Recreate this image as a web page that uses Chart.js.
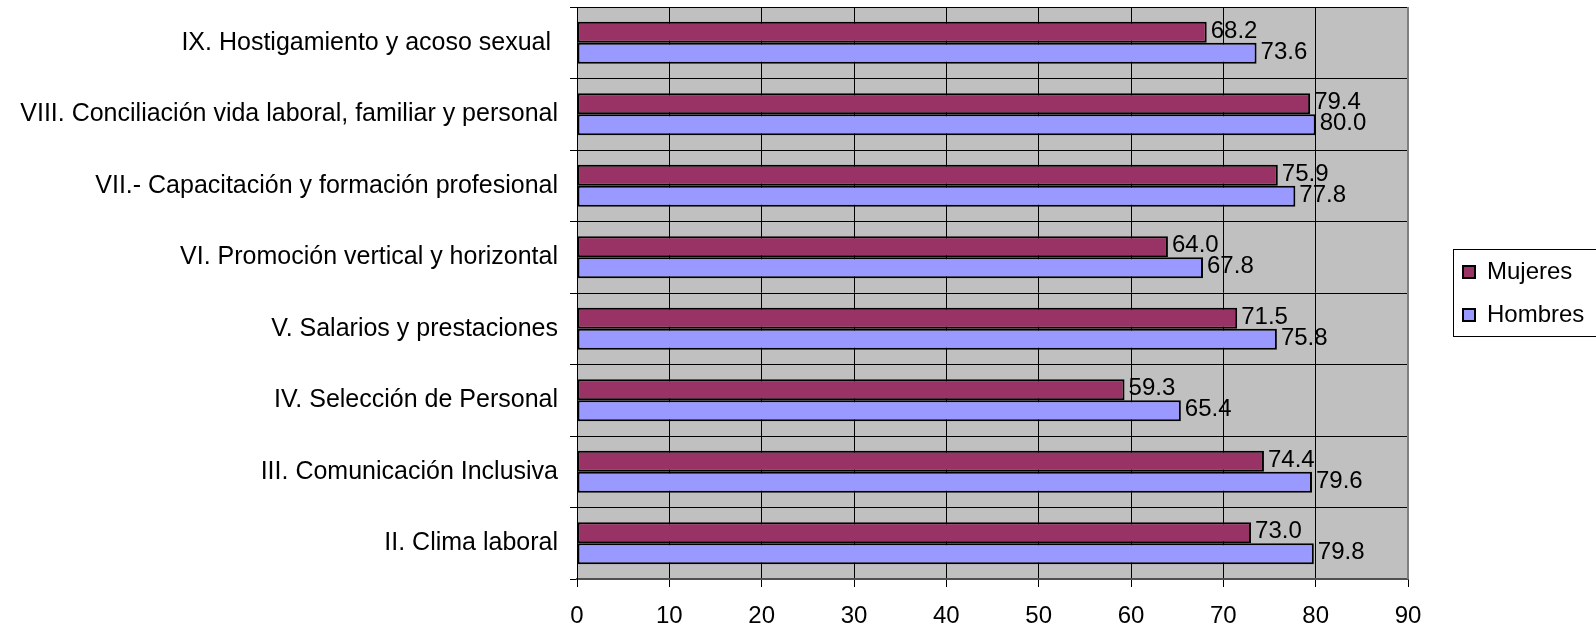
<html lang="es">
<head>
<meta charset="utf-8"/>
<script src="https://cdn.jsdelivr.net/npm/chart.js"></script>
<title>Resultados por factor</title>
<style>
    body { margin : 0 ; background : white ; }
    #grafica { display : block ; }
</style>
</head>
<body>
<canvas id="grafica" width="1596" height="628"></canvas>
<script>
    // datos (de arriba hacia abajo)
    const factores = [
        'IX. Hostigamiento y acoso sexual ',
        'VIII. Conciliación vida laboral, familiar y personal',
        'VII.- Capacitación y formación profesional',
        'VI. Promoción vertical y horizontal',
        'V. Salarios y prestaciones',
        'IV. Selección de Personal',
        'III. Comunicación Inclusiva',
        'II. Clima laboral'
    ];
    const mujeres = [68.2, 79.4, 75.9, 64.0, 71.5, 59.3, 74.4, 73.0];
    const hombres = [73.6, 80.0, 77.8, 67.8, 75.8, 65.4, 79.6, 79.8];
    const escalaX = [0, 90, 10];   // min, max, paso

    const fuente = 'Liberation Sans, Arial, sans-serif';

    // fondo gris del area de trazado y borde derecho
    const fondo = {
        id: 'fondo',
        beforeDraw(chart) {
            const a = chart.chartArea, ctx = chart.ctx;
            ctx.save();
            ctx.fillStyle = '#C0C0C0';
            ctx.fillRect(a.left, a.top, a.right - a.left, a.bottom - a.top);
            ctx.restore();
        },
        afterDraw(chart) {
            const a = chart.chartArea, ctx = chart.ctx;
            ctx.save();
            ctx.strokeStyle = '#808080';
            ctx.lineWidth = 2;
            ctx.beginPath();
            ctx.moveTo(a.right, a.top);
            ctx.lineTo(a.right, a.bottom);
            ctx.stroke();
            ctx.restore();
        }
    };

    // etiquetas de valor al final de cada barra
    const etiquetas = {
        id: 'etiquetas',
        afterDatasetsDraw(chart) {
            const ctx = chart.ctx;
            ctx.save();
            ctx.font = '24px ' + fuente;
            ctx.fillStyle = 'black';
            ctx.textAlign = 'left';
            ctx.textBaseline = 'middle';
            chart.data.datasets.forEach(function (ds, i) {
                chart.getDatasetMeta(i).data.forEach(function (bar, j) {
                    ctx.fillText(ds.data[j].toFixed(1), bar.x + 4, bar.y - 1);
                });
            });
            ctx.restore();
        }
    };

    // leyenda con recuadro a la derecha
    const leyenda = {
        id: 'leyenda',
        afterDraw(chart) {
            const ctx = chart.ctx;
            const x0 = 1453, y0 = 249;
            ctx.save();
            ctx.fillStyle = 'white';
            ctx.fillRect(x0, y0, 160, 88);
            ctx.strokeStyle = 'black';
            ctx.lineWidth = 1;
            ctx.strokeRect(x0 + 0.5, y0 + 0.5, 160, 87);
            ctx.font = '24px ' + fuente;
            ctx.textBaseline = 'middle';
            chart.data.datasets.forEach(function (ds, i) {
                const y = y0 + 23 + i * 43;
                ctx.fillStyle = ds.backgroundColor;
                ctx.fillRect(x0 + 10, y - 6, 12, 12);
                ctx.strokeStyle = 'black';
                ctx.lineWidth = 2;
                ctx.strokeRect(x0 + 10, y - 6, 12, 12);
                ctx.fillStyle = 'black';
                ctx.fillText(ds.label, x0 + 34, y);
            });
            ctx.restore();
        }
    };

    new Chart('grafica', {
        type: 'bar',
        data: {
            labels: factores,
            datasets: [{
                label: 'Mujeres',
                data: mujeres,
                backgroundColor: '#993366',
                borderColor: 'black',
                borderWidth: 2,
                borderSkipped: false
            }, {
                label: 'Hombres',
                data: hombres,
                backgroundColor: '#9999FF',
                borderColor: 'black',
                borderWidth: 2,
                borderSkipped: false
            }]
        },
        options: {
            responsive: false,
            animation: false,
            indexAxis: 'y',
            layout: { padding: { top: 7, right: 188, left: 0, bottom: 0 } },
            datasets: { bar: { categoryPercentage: 0.59, barPercentage: 1 } },
            plugins: {
                legend: { display: false },
                tooltip: { enabled: false }
            },
            scales: {
                x: {
                    min: escalaX[0],
                    max: escalaX[1],
                    ticks: { stepSize: escalaX[2], color: 'black', font: { family: fuente, size: 24 }, padding: 15 },
                    grid: { color: 'black', lineWidth: 1, tickLength: 8, tickColor: 'black' },
                    border: { color: '#505050', width: 2 },
                    afterFit(scale) {
                        scale.height = 49;
                        scale.paddingLeft = 0;
                        scale.paddingRight = 0;
                    }
                },
                y: {
                    ticks: { color: 'black', font: { family: fuente, size: 25 }, padding: 12 },
                    grid: { color: 'black', lineWidth: 1, offset: true, tickLength: 7, tickColor: 'black' },
                    border: { color: 'black', width: 1 },
                    afterFit(scale) {
                        scale.width = 577;
                        scale.paddingTop = 0;
                        scale.paddingBottom = 0;
                    }
                }
            }
        },
        plugins: [fondo, etiquetas, leyenda]
    });
</script>
</body>
</html>
